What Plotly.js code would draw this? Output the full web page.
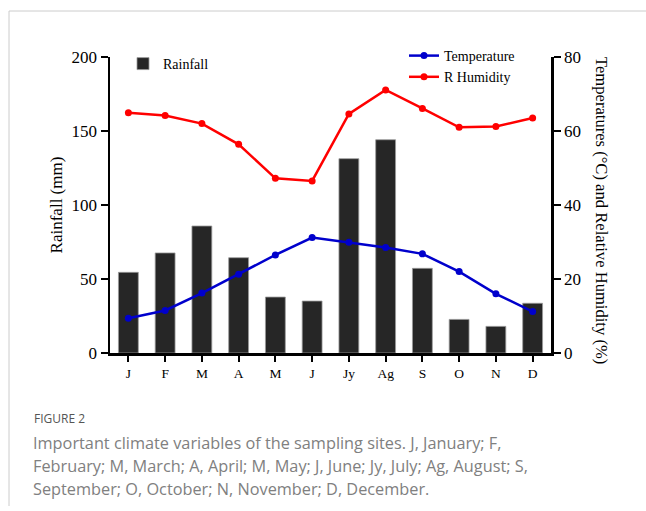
<!DOCTYPE html>
<html>
<head>
<meta charset="utf-8">
<script src="https://cdn.plot.ly/plotly-3.0.1.min.js"></script>
<style>
html,body{margin:0;padding:0;background:#fff;}
#chart{width:646px;height:511px;}
</style>
</head>
<body>
<div id="chart"></div>
<script>
// Data
const months = ["J","F","M","A","M","J","Jy","Ag","S","O","N","D"];
const rainfall = [54.5, 67.6, 85.8, 64.4, 37.8, 35.1, 131.3, 144.1, 57.2, 22.7, 18.0, 33.6];
const temperature = [9.4, 11.5, 16.2, 21.3, 26.5, 31.2, 29.9, 28.5, 26.8, 22.0, 16.0, 11.2];
const humidity = [64.9, 64.2, 62.0, 56.4, 47.2, 46.5, 64.6, 71.1, 66.1, 61.0, 61.2, 63.5];
const leftTicks = [0, 50, 100, 150, 200];
const rightTicks = [0, 20, 40, 60, 80];
const captionLines = [
  "Important climate variables of the sampling sites. J, January; F,",
  "February; M, March; A, April; M, May; J, June; Jy, July; Ag, August; S,",
  "September; O, October; N, November; D, December."
];

const xIdx = months.map((_, i) => i);
const serif = "Liberation Serif, Times New Roman, serif";

const traces = [
  {
    type: "bar", name: "Rainfall", x: xIdx, y: rainfall, width: 0.54,
    marker: {color: "#262626", line: {color: "#9a9a9a", width: 0.8}},
    legend: "legend", yaxis: "y"
  },
  {
    type: "scatter", mode: "lines+markers", name: "Temperature", x: xIdx, y: temperature,
    line: {color: "#0000cc", width: 2.5}, marker: {color: "#0000cc", size: 7},
    yaxis: "y2", legend: "legend2"
  },
  {
    type: "scatter", mode: "lines+markers", name: "R Humidity", x: xIdx, y: humidity,
    line: {color: "#ff0000", width: 2.5}, marker: {color: "#ff0000", size: 7},
    yaxis: "y2", legend: "legend2"
  }
];

const L = 110, R = 551, T = 57, B = 353;
const px = v => (v - L) / (R - L);
const py = v => (B - v) / (B - T);

const annotations = [
  {text: "Temperatures (°C) and Relative Humidity (%)", xref: "paper", yref: "paper",
   x: px(602), y: py(210), xanchor: "center", yanchor: "middle", textangle: 90, showarrow: false,
   font: {family: serif, size: 16.6, color: "#000"}},
  {text: "FIGURE 2", xref: "paper", yref: "paper", x: px(32), y: py(418),
   xanchor: "left", yanchor: "middle", showarrow: false,
   font: {family: "Open Sans, sans-serif", size: 12, color: "#555555"}}
];
captionLines.forEach((t, i) => {
  annotations.push({text: t, xref: "paper", yref: "paper", x: px(31), y: py(443 + i * 23),
    xanchor: "left", yanchor: "middle", showarrow: false,
    font: {family: "Open Sans, sans-serif", size: 16.3, color: "#808080"}});
});

const layout = {
  width: 646, height: 511,
  margin: {l: L, r: 646 - R, t: T, b: 511 - B, pad: 0},
  paper_bgcolor: "#fff", plot_bgcolor: "#fff",
  font: {family: serif, color: "#000"},
  bargap: 0.46,
  xaxis: {
    range: [-0.5, 11.5], tickvals: xIdx, ticktext: months,
    showgrid: false, zeroline: false, showline: true, linecolor: "#000", linewidth: 2.5,
    ticks: "outside", ticklen: 6, tickwidth: 2, tickcolor: "#000",
    tickfont: {family: serif, size: 13.5}, fixedrange: true
  },
  yaxis: {
    range: [0, 200], tickvals: leftTicks,
    showgrid: false, zeroline: false, showline: true, linecolor: "#000", linewidth: 2.5,
    ticks: "outside", ticklen: 7, tickwidth: 2, tickcolor: "#000",
    tickfont: {family: serif, size: 17},
    title: {text: "Rainfall (mm)", font: {family: serif, size: 17}, standoff: 5}
  },
  yaxis2: {
    range: [0, 80], tickvals: rightTicks, overlaying: "y", side: "right",
    showgrid: false, zeroline: false, showline: true, linecolor: "#000", linewidth: 2.5,
    ticks: "outside", ticklen: 7, tickwidth: 2, tickcolor: "#000",
    tickfont: {family: serif, size: 17}
  },
  legend: {
    x: px(123), y: py(48), xanchor: "left", yanchor: "top",
    bgcolor: "rgba(0,0,0,0)", font: {family: serif, size: 14}, tracegroupgap: 0
  },
  legend2: {
    x: px(404), y: py(40), xanchor: "left", yanchor: "top",
    bgcolor: "rgba(0,0,0,0)", font: {family: serif, size: 14}, tracegroupgap: 0
  },
  showlegend: true,
  annotations: annotations,
  shapes: [
    {type: "line", xref: "paper", yref: "paper", x0: px(9), x1: px(646), y0: py(11), y1: py(11),
     line: {color: "#cccccc", width: 1}},
    {type: "line", xref: "paper", yref: "paper", x0: px(9), x1: px(9), y0: py(11), y1: py(506),
     line: {color: "#cccccc", width: 1}}
  ]
};

Plotly.newPlot("chart", traces, layout, {displayModeBar: false, staticPlot: true});
</script>
</body>
</html>
